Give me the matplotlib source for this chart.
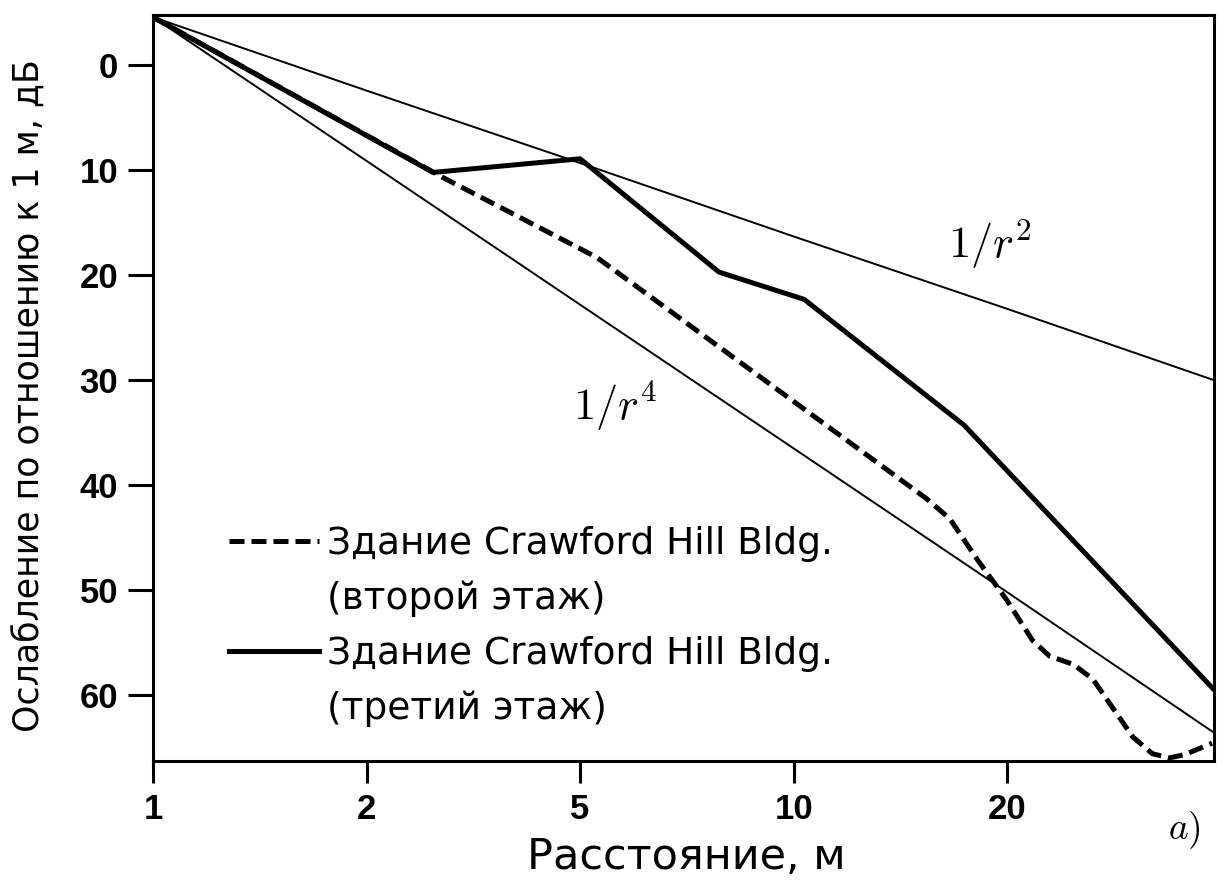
import numpy as np
import matplotlib.pyplot as plt
from matplotlib.lines import Line2D

plt.rcParams['font.family'] = ['DejaVu Sans']
plt.rcParams['mathtext.fontset'] = 'cm'

# Расстояние, м / ослабление, дБ (относительно 1 м)
r_floor2 = [1, 2.78, 5.28, 15.4, 16.6, 18.2, 20, 22.3, 24.0, 26.6, 28.9,
            34.3, 37.3, 40.1, 42.8, 48.2]
db_floor2 = [-4.6, 10.7, 18.3, 41.3, 43.2, 47.2, 51.0, 54.8, 56.3, 57.1, 58.5,
             64.0, 65.6, 66.0, 65.7, 64.6]

r_floor3 = [1, 2.66, 5, 7.85, 10.35, 17.4, 48.6]
db_floor3 = [-4.6, 10.2, 8.9, 19.7, 22.3, 34.3, 59.5]

# опорные зависимости 1/r^2 и 1/r^4
r_ref = [1, 2, 5, 10, 20, 48.6]
db_r2 = [-4.6, 2.4, 9.3, 16.3, 23.2, 30.0]
db_r4 = [-4.6, 9.1, 22.8, 36.5, 50.2, 63.6]

x_ticks = [1, 2, 5, 10, 20]
y_ticks = [0, 10, 20, 30, 40, 50, 60]

# шкала 1-2-5: деления на равном расстоянии
anchors = np.log10([0.5, 1, 2, 5, 10, 20, 50, 100])
slots = np.arange(-1, 7)


def fwd(x):
    x = np.clip(np.asarray(x, dtype=float), 1e-3, None)
    return np.interp(np.log10(x), anchors, slots)


def inv(p):
    return 10 ** np.interp(np.asarray(p, dtype=float), slots, anchors)


fig = plt.figure(figsize=(12.29, 8.80), dpi=100)
ax = fig.add_axes([0.1245, 0.1352, 0.8633, 0.8477])
ax.set_xscale('function', functions=(fwd, inv))

ax.plot(r_ref, db_r2, color='black', lw=1.4)
ax.plot(r_ref, db_r4, color='black', lw=1.4)
l2, = ax.plot(r_floor2, db_floor2, color='black', lw=3.6, ls=(0, (3.0, 1.4)))
l3, = ax.plot(r_floor3, db_floor3, color='black', lw=3.6)

ax.set_xlim(1, 48.6)
ax.set_ylim(66.3, -4.8)
ax.set_xticks(x_ticks)
ax.set_xticklabels([str(v) for v in x_ticks])
ax.set_yticks(y_ticks)
ax.minorticks_off()

for lab in ax.get_xticklabels() + ax.get_yticklabels():
    lab.set_fontweight('bold')
    lab.set_family('Liberation Sans')
ax.tick_params(axis='y', direction='out', length=18, width=2.2, pad=7, labelsize=25)
ax.tick_params(axis='x', direction='out', length=16, width=2.2, pad=7, labelsize=25)
for s in ax.spines.values():
    s.set_linewidth(2.2)

ax.set_xlabel('Расстояние, м', fontsize=31)
ax.xaxis.set_label_coords(0.503, -0.1)
ax.set_ylabel('Ослабление по отношению к 1 м, дБ', fontsize=25)
ax.yaxis.set_label_coords(-0.101, 0.49)

ax.text(18.9, 17.0, '$1/r^2$', fontsize=32, ha='center', va='center')
ax.text(5.6, 32.5, '$1/r^4$', fontsize=32, ha='center', va='center')
fig.text(0.964, 0.057, '$a)$', fontsize=27, ha='center', va='center')

blank = Line2D([], [], linestyle='none')
ax.legend([l2, blank, l3, blank],
          ['Здание Crawford Hill Bldg.', '(второй этаж)',
           'Здание Crawford Hill Bldg.', '(третий этаж)'],
          loc='upper left', bbox_to_anchor=(0.072, 0.315), frameon=False,
          fontsize=27, handlelength=2.4, handletextpad=0.2,
          labelspacing=0.5, borderpad=0, borderaxespad=0)

fig.savefig('out.png', dpi=100, facecolor='white')
